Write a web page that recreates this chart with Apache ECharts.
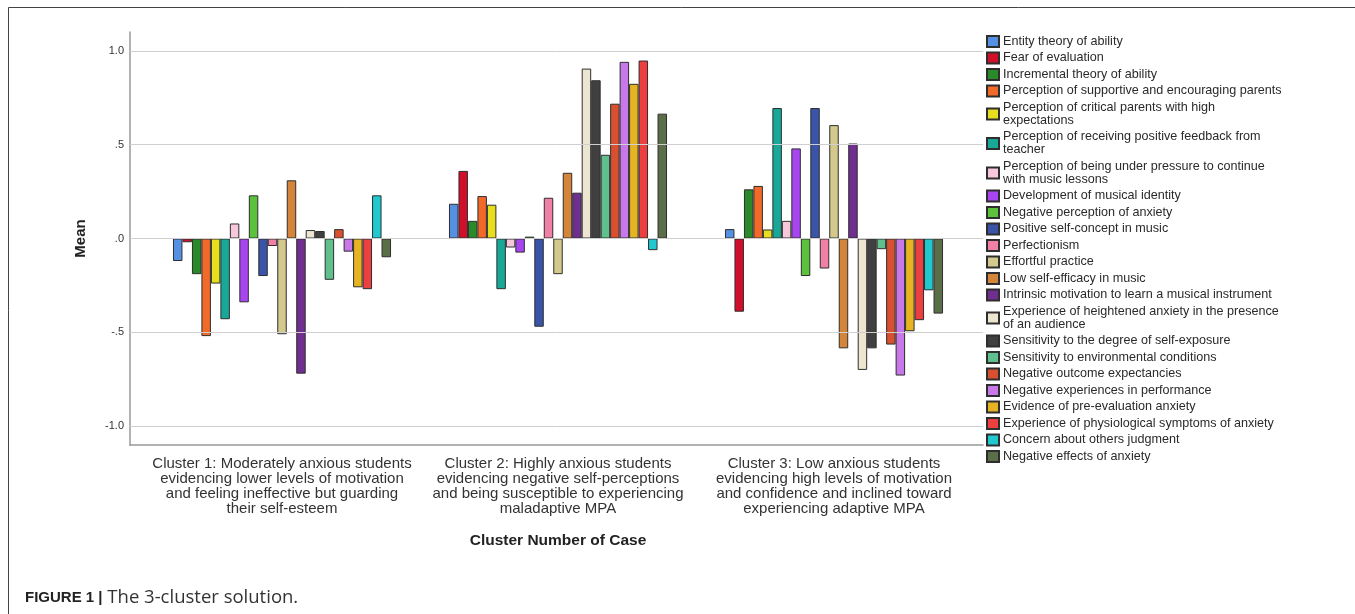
<!DOCTYPE html>
<html><head><meta charset="utf-8">
<script src="https://cdn.jsdelivr.net/npm/echarts@6/dist/echarts.min.js"></script>
<style>html,body{margin:0;padding:0;background:#fff}#c{width:1355px;height:614px}</style>
</head><body><div id="c"></div>
<script>
const categories = [
  "Cluster 1: Moderately anxious students\nevidencing lower levels of motivation\nand feeling ineffective but guarding\ntheir self-esteem",
  "Cluster 2: Highly anxious students\nevidencing negative self-perceptions\nand being susceptible to experiencing\nmaladaptive MPA",
  "Cluster 3: Low anxious students\nevidencing high levels of motivation\nand confidence and inclined toward\nexperiencing adaptive MPA"
];
const seriesNames = [
  "Entity theory of ability",
  "Fear of evaluation",
  "Incremental theory of ability",
  "Perception of supportive and encouraging parents",
  "Perception of critical parents with high expectations",
  "Perception of receiving positive feedback from teacher",
  "Perception of being under pressure to continue with music lessons",
  "Development of musical identity",
  "Negative perception of anxiety",
  "Positive self-concept in music",
  "Perfectionism",
  "Effortful practice",
  "Low self-efficacy in music",
  "Intrinsic motivation to learn a musical instrument",
  "Experience of heightened anxiety in the presence of an audience",
  "Sensitivity to the degree of self-exposure",
  "Sensitivity to environmental conditions",
  "Negative outcome expectancies",
  "Negative experiences in performance",
  "Evidence of pre-evaluation anxiety",
  "Experience of physiological symptoms of anxiety",
  "Concern about others judgment",
  "Negative effects of anxiety"
];
// values per series: [cluster1, cluster2, cluster3]
const cluster1 = [-0.12,-0.02,-0.19,-0.52,-0.24,-0.43,0.08,-0.34,0.23,-0.20,-0.04,-0.51,0.31,-0.72,0.045,0.04,-0.22,0.05,-0.07,-0.26,-0.27,0.23,-0.10];
const cluster2 = [0.185,0.36,0.094,0.226,0.18,-0.27,-0.048,-0.075,0.01,-0.47,0.217,-0.19,0.35,0.244,0.905,0.843,0.446,0.718,0.941,0.824,0.948,-0.062,0.665];
const cluster3 = [0.05,-0.39,0.262,0.28,0.048,0.695,0.094,0.48,-0.20,0.695,-0.16,0.604,-0.585,0.506,-0.70,-0.585,-0.057,-0.565,-0.73,-0.494,-0.435,-0.276,-0.40];
const colors = ["#5590e2","#d0102a","#2a8a2a","#f26a2a","#e6de1e","#17a898","#f7c8dc","#a945f0","#5cc23c","#3a55a8","#f080a8","#d4c98c","#d4853a","#702f90","#ece6d0","#404040","#5fc08e","#d85030","#c878e8","#e6b422","#ec4040","#20c8d0","#5a6e48"];
const yTicks = [-1, -0.5, 0, 0.5, 1];
const legendWrap = {
  "Perception of critical parents with high expectations": "Perception of critical parents with high\nexpectations",
  "Perception of receiving positive feedback from teacher": "Perception of receiving positive feedback from\nteacher",
  "Perception of being under pressure to continue with music lessons": "Perception of being under pressure to continue\nwith music lessons",
  "Experience of heightened anxiety in the presence of an audience": "Experience of heightened anxiety in the presence\nof an audience"
};

const FONT = '"Liberation Sans", Arial, sans-serif';
const chart = echarts.init(document.getElementById('c'), null, {renderer: 'canvas'});

const fmtTick = v => {
  if (v === 0) return '.0';
  if (Math.abs(v) === 1) return (v < 0 ? '-' : '') + '1.0';
  return (v < 0 ? '-' : '') + '.5';
};

const series = [{
  type: 'line', xAxisIndex: 0, yAxisIndex: 0, data: [], silent: true,
  markLine: {
    silent: true, symbol: 'none', label: {show: false},
    lineStyle: {color: '#cfcfcf', type: 'solid', width: 1},
    data: yTicks.map(v => ({yAxis: v}))
  }
}];
seriesNames.forEach((n, i) => {
  series.push({
    name: n, type: 'bar', xAxisIndex: 1, yAxisIndex: 1,
    data: [cluster1[i], cluster2[i], cluster3[i]],
    barGap: '0%', barCategoryGap: '21%',
    itemStyle: {color: colors[i], borderColor: '#2e2e2e', borderWidth: 1},
    emphasis: {disabled: true}
  });
});

chart.setOption({
  animation: false,
  backgroundColor: '#fff',
  textStyle: {fontFamily: FONT},
  grid: [
    {left: 130, top: 32, width: 853, height: 413},
    {left: 144, top: 32, width: 828, height: 413}
  ],
  xAxis: [
    {gridIndex: 0, type: 'value', min: 0, max: 1, position: 'bottom',
     axisLine: {show: true, onZero: false, lineStyle: {color: '#999', width: 1.5}},
     axisTick: {show: false}, axisLabel: {show: false}, splitLine: {show: false}},
    {gridIndex: 1, type: 'category', data: categories,
     axisLine: {show: false}, axisTick: {show: false},
     axisLabel: {fontSize: 15, lineHeight: 15, color: '#333', margin: 11, interval: 0, fontFamily: FONT},
     name: 'Cluster Number of Case', nameLocation: 'middle', nameGap: 88,
     nameTextStyle: {fontSize: 15.5, fontWeight: 'bold', color: '#222', fontFamily: FONT}}
  ],
  yAxis: [
    {gridIndex: 0, type: 'value', min: -1.1, max: 1.1,
     axisLine: {show: true, onZero: false, lineStyle: {color: '#999', width: 1.5}},
     axisTick: {show: false},
     axisLabel: {customValues: yTicks, formatter: fmtTick, fontSize: 11, color: '#333', margin: 6, fontFamily: FONT},
     splitLine: {show: false},
     name: 'Mean', nameLocation: 'middle', nameRotate: 90, nameGap: 42,
     nameTextStyle: {fontSize: 15, fontWeight: 'bold', color: '#222', fontFamily: FONT}},
    {gridIndex: 1, type: 'value', min: -1.1, max: 1.1, show: false, splitLine: {show: false}}
  ],
  legend: {
    orient: 'vertical', left: 986, top: 35, padding: 0,
    itemWidth: 12, itemHeight: 11, itemGap: 3.5,
    icon: 'rect',
    data: seriesNames,
    formatter: n => legendWrap[n] || n,
    textStyle: {fontSize: 12.6, lineHeight: 13, color: '#2a2a2a', fontFamily: FONT, padding: [0,0,0,-1]},
    selectedMode: false
  },
  graphic: [
    {type: 'line', shape: {x1: 8.5, y1: 7.5, x2: 1355, y2: 7.5}, style: {stroke: '#444', lineWidth: 1}, silent: true},
    {type: 'line', shape: {x1: 8.5, y1: 7.5, x2: 8.5, y2: 614}, style: {stroke: '#444', lineWidth: 1}, silent: true},
    {type: 'text', left: 25, top: 588, silent: true,
     style: {text: '{b|FIGURE 1 |} The 3-cluster solution.', fontFamily: '"Open Sans", Arial, sans-serif', fontSize: 18.5, fill: '#333',
       rich: {b: {fontWeight: 'bold', fontSize: 15, fontFamily: FONT, fill: '#222'}}}}
  ],
  series: series
});
</script></body></html>
